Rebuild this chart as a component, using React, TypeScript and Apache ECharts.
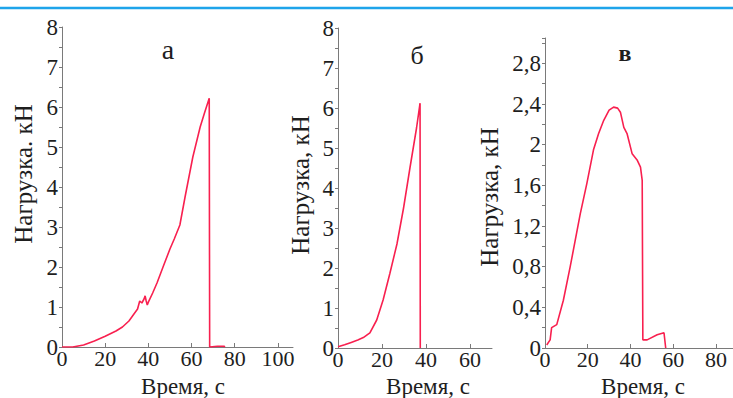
import React, { useEffect, useRef } from "react";
import * as echarts from "echarts";

// Load (kN) vs time (s) for three specimens
const seriesA: [number, number][] = [
  [0, 0], [5, 0], [10, 0.05], [15, 0.15], [20, 0.27], [25, 0.4], [28, 0.5], [31, 0.65],
  [33, 0.8], [35, 0.95], [36, 1.15], [37, 1.1], [38, 1.2], [38.5, 1.28], [39, 1.15],
  [39.5, 1.05], [40, 1.12], [42, 1.35], [44, 1.6], [46.8, 2.0], [50, 2.45], [52, 2.7],
  [54.6, 3.05], [57, 3.75], [60.6, 4.75], [64, 5.5], [66, 5.85], [68.2, 6.22], [68.4, 0],
  [72, 0.02], [75, 0.02], [75.5, 0],
];
const seriesB: [number, number][] = [
  [0, 0.03], [3, 0.08], [6, 0.14], [9, 0.2], [11.5, 0.26], [14.5, 0.38], [17.6, 0.7],
  [20.5, 1.2], [23.6, 1.87], [26.8, 2.6], [29.8, 3.5], [32.7, 4.5], [35.7, 5.5],
  [37.3, 6.12], [37.4, 0],
];
const seriesC: [number, number][] = [
  [0.8, 0.03], [2.4, 0.08], [3.1, 0.2], [5.5, 0.23], [8.6, 0.47], [11.8, 0.8], [16.5, 1.32],
  [19.6, 1.62], [22.7, 1.95], [25.1, 2.11], [27.5, 2.24], [30, 2.34], [32.1, 2.37],
  [34, 2.36], [35.3, 2.32], [36.9, 2.17], [38.4, 2.11], [40.8, 1.91], [43.1, 1.85],
  [44.7, 1.78], [45.5, 1.65], [45.8, 0.08], [47.8, 0.08], [52.5, 0.13], [55.7, 0.15],
  [56.5, 0],
];
const panelTitles = ["а", "б", "в"];
const yNames = ["Нагрузка. кН", "Нагрузка, кН", "Нагрузка, кН"];
const xName = "Время, с";

const FONT = "Liberation Serif";
const RED = "#f8204f";
const AXIS = "#7a7a7a";
const TXT = "#1e1e1e";

export default function App() {
  const ref = useRef<HTMLDivElement>(null);
  useEffect(() => {
    if (!ref.current) return;
    const chart = echarts.init(ref.current, undefined, { renderer: "svg" });
    const fmt = (v: number) => String(Math.round(v * 10) / 10).replace(".", ",");
    const mkX = (idx: number, max: number) => ({
      type: "value",
      gridIndex: idx,
      min: 0,
      max,
      interval: 20,
      axisLine: { show: true, onZero: false, lineStyle: { color: AXIS, width: 1 } },
      axisTick: { show: true, inside: true, length: 4, lineStyle: { color: AXIS } },
      splitLine: { show: false },
      axisLabel: {
        showMaxLabel: false,
        margin: 1,
        fontFamily: FONT,
        fontSize: 22,
        lineHeight: 21,
        color: TXT,
      },
    });
    const mkY = (idx: number, max: number, interval: number, dec: boolean) => ({
      type: "value",
      gridIndex: idx,
      min: 0,
      max,
      interval,
      axisLine: { show: true, onZero: false, lineStyle: { color: AXIS, width: 1 } },
      axisTick: { show: true, inside: false, length: 3, lineStyle: { color: AXIS } },
      minorTick: { show: true, splitNumber: 2, length: 3, lineStyle: { color: AXIS } },
      splitLine: { show: false },
      axisLabel: {
        showMaxLabel: dec ? false : true,
        margin: 4,
        fontFamily: FONT,
        fontSize: 23,
        color: TXT,
        formatter: dec ? fmt : undefined,
      },
    });
    const line = (idx: number, data: [number, number][]) => ({
      type: "line",
      xAxisIndex: idx,
      yAxisIndex: idx,
      data,
      showSymbol: false,
      symbol: "none",
      lineStyle: { color: RED, width: 1.6 },
    });
    const text = (x: number, y: number, t: string, size: number, rot = 0, bold = false) => {
      const style: any = {
        text: t,
        fontFamily: FONT,
        fontSize: size,
        fill: TXT,
        align: "center",
        verticalAlign: "middle",
      };
      if (bold) style.fontWeight = "bold";
      return { type: "text", x, y, rotation: rot, style };
    };
    chart.setOption({
      animation: false,
      backgroundColor: "#ffffff",
      grid: [
        { left: 62, top: 27, width: 231, height: 320 },
        { left: 338, top: 28, width: 154, height: 320 },
        { left: 545, top: 38, width: 188, height: 310 },
      ],
      xAxis: [mkX(0, 107), mkX(1, 70), mkX(2, 88)],
      yAxis: [mkY(0, 8, 1, false), mkY(1, 8, 1, false), mkY(2, 3.05, 0.4, true)],
      series: [line(0, seriesA), line(1, seriesB), line(2, seriesC)],
      graphic: [
        {
          type: "line",
          shape: { x1: 0, y1: 8, x2: 733, y2: 8 },
          style: { stroke: "#1ea4ea", lineWidth: 2.5 },
        },
        text(168, 49, panelTitles[0], 28),
        text(417, 55, panelTitles[1], 26),
        text(625, 53, panelTitles[2], 24, 0, true),
        text(23, 174, yNames[0], 25, Math.PI / 2),
        text(300, 185, yNames[1], 25, Math.PI / 2),
        text(489, 197, yNames[2], 25, Math.PI / 2),
        text(183, 386, xName, 23),
        text(428, 386, xName, 23),
        text(643, 386, xName, 23),
      ],
    });
    return () => chart.dispose();
  }, []);
  return (
    <div
      ref={ref}
      style={{ position: "fixed", left: 0, top: 0, width: 733, height: 398, background: "#fff" }}
    />
  );
}
